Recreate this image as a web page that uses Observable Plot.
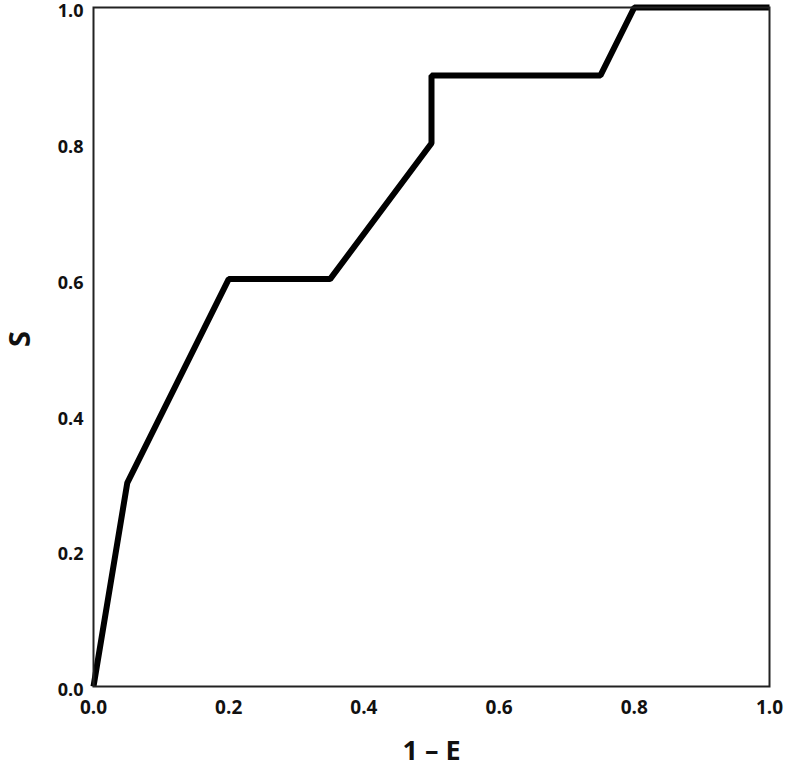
<!DOCTYPE html>
<html>
<head>
<meta charset="utf-8">
<script src="https://cdn.jsdelivr.net/npm/d3@7"></script>
<script src="https://cdn.jsdelivr.net/npm/@observablehq/plot@0.6"></script>
<style>
  html, body { margin: 0; padding: 0; background: #fff; }
  #chart svg { display: block; }
</style>
</head>
<body>
<div id="chart"></div>
<script>
const oneMinusE = [0, 0.05, 0.2, 0.35, 0.5, 0.5, 0.75, 0.8, 1.0];
const sValues   = [0, 0.3, 0.6, 0.6, 0.8, 0.9, 0.9, 1.0, 1.0];
const tickValues = [0, 0.2, 0.4, 0.6, 0.8, 1.0];
const xTitle = "1 – E";
const yTitle = "S";

const points = oneMinusE.map((x, i) => ({x, y: sValues[i]}));
const font = "'Open Sans', 'DejaVu Sans', sans-serif";
const fmt = d3.format(".1f");

const chart = Plot.plot({
  width: 786,
  height: 769,
  marginLeft: 93,
  marginRight: 17,
  marginTop: 7,
  marginBottom: 83,
  style: {fontFamily: font, fontWeight: "bold", background: "#fff", color: "#111"},
  x: {domain: [0, 1], axis: null},
  y: {domain: [0, 1], axis: null},
  marks: [
    Plot.text(tickValues, {x: d => d, y: () => 0, text: d => fmt(d), dy: 21, fontSize: 19, fontWeight: "bold", fill: "#111", lineAnchor: "middle"}),
    Plot.text(tickValues, {y: d => d, x: () => 0, text: d => fmt(d), dx: -10, dy: 4, textAnchor: "end", fontSize: 18, fontWeight: "bold", fill: "#111", lineAnchor: "middle"}),
    Plot.line(points, {x: "x", y: "y", stroke: "#000", strokeWidth: 6, strokeLinejoin: "miter", strokeLinecap: "butt"}),
    Plot.frame({stroke: "#222", strokeWidth: 2}),
    Plot.text([xTitle], {frameAnchor: "bottom", dy: 65, fontSize: 27, fontWeight: "bold", fill: "#111", lineAnchor: "middle"}),
    Plot.text([yTitle], {frameAnchor: "left", dx: -73, rotate: -90, fontSize: 29, fontWeight: "bold", fill: "#111", lineAnchor: "middle"})
  ]
});
document.getElementById("chart").appendChild(chart);
</script>
</body>
</html>
